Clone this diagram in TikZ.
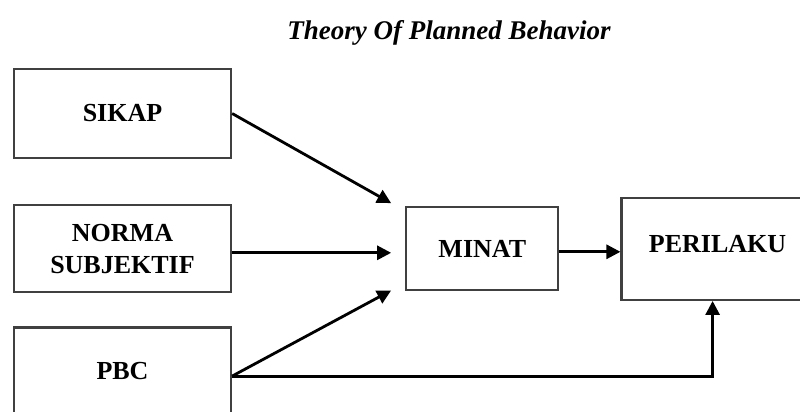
\documentclass[tikz,border=0pt]{standalone}
\usepackage{fontspec}
\setmainfont{Liberation Serif}
\usetikzlibrary{positioning}
\usetikzlibrary{arrows.meta}
\usetikzlibrary{calc}
\tikzset{
   boxPlain/.style={draw=black!75, line width=2.3pt, fill=white, align=center, inner sep=0pt, font=\fontsize{26}{32}\selectfont\bfseries},
   lineWithArrow/.style={draw=black, line width=2.8pt, -{Triangle[length=14pt,width=14pt]}},
   linePlain/.style={draw=black, line width=2.8pt},
}

\begin{document}
\begin{tikzpicture}[x=1pt,y=-1pt]
  \useasboundingbox (0,0) rectangle (800,412);
  \clip (0,0) rectangle (800,412);
  %
  \node[font=\fontsize{27}{30}\selectfont\bfseries\itshape] (title) at (449,33) {Theory Of Planned Behavior};
  %
  \node[boxPlain, minimum width=217pt, minimum height=89pt] (sikap) at (122.5,113.5) {SIKAP};
  \node[boxPlain, minimum width=217pt, minimum height=87pt, below=45pt of sikap] (norma) {NORMA\\SUBJEKTIF};
  \node[boxPlain, minimum width=217pt, minimum height=87pt, below=33pt of norma] (pbc) {PBC};
  %
  \node[boxPlain, minimum width=152pt, minimum height=83pt, right=173pt of norma] (minat) {MINAT};
  \node[boxPlain, minimum width=192pt, minimum height=102pt, text depth=10pt, right=61pt of minat] (perilaku) {PERILAKU};
  %
  \coordinate (sikapIn) at ([xshift=-14pt,yshift=3pt]minat.north west);
  \coordinate (normaOut) at ([yshift=-4pt]norma.east);
  \coordinate (normaIn) at ([xshift=-14pt,yshift=-4pt]minat.west);
  \coordinate (pbcIn) at ([xshift=-14pt,yshift=1pt]minat.south west);
  \coordinate (pbcOut) at ([yshift=-5pt]pbc.east);
  %
  \draw[lineWithArrow] (sikap.east) -- (sikapIn);
  \draw[lineWithArrow] (normaOut) -- (normaIn);
  \draw[lineWithArrow] (pbcOut) -- (pbcIn);
  \draw[lineWithArrow] ([yshift=-3pt]minat.east) -- ([yshift=-3pt]perilaku.west);
  % PBC also goes straight to the behaviour box
  \draw[lineWithArrow] (pbcOut) -| ([xshift=-5pt]perilaku.south);
\end{tikzpicture}
\end{document}
